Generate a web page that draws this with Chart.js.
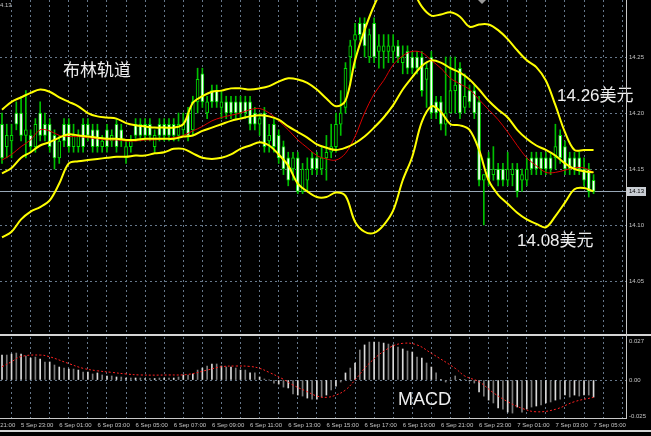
<!DOCTYPE html>
<html>
<head>
<meta charset="utf-8">
<script src="https://cdn.jsdelivr.net/npm/chart.js@4.4.1/dist/chart.umd.min.js"></script>
<style>
  html, body { margin: 0; padding: 0; background: #000; }
  #wrap { position: relative; width: 651px; height: 436px; overflow: hidden; background: #000; }
  canvas { position: absolute; left: 0; }
  #main { top: 0; }
  #macd { top: 336px; }
  .rule { position: absolute; background: #c8c8c8; }
</style>
</head>
<body>
<div id="wrap">
  <canvas id="main" width="651" height="333"></canvas>
  <canvas id="macd" width="651" height="100"></canvas>
  <div class="rule" style="left:0;top:334px;width:651px;height:2px;background:#d4d4d4"></div>
  <div class="rule" style="left:626px;top:0;width:1px;height:419px"></div>
  <div class="rule" style="left:0;top:418px;width:627px;height:1px"></div>
  <div class="rule" style="left:0;top:430px;width:651px;height:2px;background:#d4d4d4"></div>
</div>
<script>
// M15 candles, 5 Sep 22:00 -> 7 Sep 05:00
const opens = [
  14.19,14.17,14.175,14.20,14.20,14.18,14.18,14.17,14.20,14.19,
  14.19,14.18,14.16,14.19,14.19,14.17,14.17,14.19,14.19,14.185,
  14.185,14.17,14.185,14.175,14.19,14.185,14.16,14.17,14.19,14.19,
  14.19,14.19,14.17,14.19,14.19,14.19,14.19,14.18,14.185,14.20,
  14.185,14.21,14.235,14.20,14.22,14.22,14.205,14.21,14.21,14.21,
  14.21,14.21,14.21,14.20,14.19,14.20,14.175,14.19,14.18,14.17,
  14.16,14.15,14.16,14.13,14.14,14.16,14.16,14.15,14.16,14.165,
  14.17,14.19,14.205,14.25,14.265,14.28,14.28,14.25,14.28,14.255,
  14.255,14.255,14.255,14.26,14.245,14.255,14.25,14.25,14.25,14.23,
  14.25,14.21,14.21,14.19,14.20,14.22,14.24,14.205,14.22,14.22,
  14.21,14.14,14.16,14.145,14.15,14.15,14.14,14.145,14.15,14.14,
  14.14,14.16,14.16,14.16,14.16,14.16,14.16,14.18,14.17,14.16,
  14.16,14.16,14.15,14.15,14.14
];
const highs = [
  14.20,14.19,14.19,14.21,14.215,14.22,14.185,14.195,14.21,14.20,
  14.195,14.185,14.18,14.195,14.195,14.19,14.185,14.195,14.195,14.19,
  14.19,14.18,14.19,14.185,14.195,14.19,14.175,14.18,14.195,14.195,
  14.195,14.195,14.185,14.195,14.195,14.195,14.195,14.20,14.20,14.205,
  14.215,14.24,14.24,14.215,14.225,14.225,14.22,14.215,14.215,14.215,
  14.215,14.215,14.215,14.205,14.20,14.205,14.19,14.195,14.185,14.175,
  14.165,14.165,14.165,14.155,14.16,14.165,14.165,14.17,14.18,14.19,
  14.20,14.22,14.245,14.265,14.28,14.285,14.285,14.275,14.285,14.27,
  14.27,14.27,14.27,14.265,14.26,14.26,14.255,14.255,14.255,14.245,
  14.255,14.215,14.215,14.25,14.25,14.25,14.245,14.235,14.225,14.225,
  14.215,14.145,14.165,14.17,14.155,14.155,14.165,14.155,14.155,14.15,
  14.16,14.165,14.165,14.165,14.165,14.165,14.19,14.185,14.175,14.165,
  14.165,14.165,14.16,14.155,14.145
];
const lows = [
  14.155,14.16,14.16,14.185,14.175,14.16,14.165,14.165,14.175,14.175,
  14.165,14.15,14.155,14.17,14.165,14.165,14.165,14.165,14.175,14.165,
  14.165,14.165,14.165,14.17,14.165,14.17,14.155,14.165,14.175,14.175,
  14.175,14.175,14.165,14.175,14.175,14.175,14.175,14.175,14.18,14.175,
  14.18,14.20,14.205,14.195,14.205,14.205,14.195,14.195,14.195,14.195,
  14.195,14.195,14.185,14.185,14.18,14.165,14.165,14.165,14.155,14.145,
  14.135,14.14,14.128,14.128,14.13,14.145,14.145,14.145,14.14,14.16,
  14.165,14.18,14.20,14.225,14.24,14.265,14.25,14.245,14.245,14.24,
  14.24,14.245,14.245,14.245,14.235,14.235,14.235,14.235,14.215,14.205,
  14.195,14.195,14.185,14.18,14.20,14.20,14.195,14.20,14.205,14.195,
  14.135,14.10,14.135,14.14,14.135,14.135,14.135,14.135,14.125,14.13,
  14.135,14.145,14.145,14.145,14.145,14.145,14.15,14.155,14.145,14.145,
  14.145,14.145,14.135,14.125,14.128
];
const closes = [
  14.16,14.18,14.18,14.19,14.18,14.185,14.17,14.19,14.18,14.18,
  14.17,14.16,14.175,14.175,14.17,14.18,14.18,14.17,14.18,14.17,
  14.17,14.175,14.17,14.18,14.17,14.175,14.17,14.175,14.18,14.18,
  14.18,14.18,14.18,14.18,14.18,14.18,14.18,14.19,14.19,14.18,
  14.21,14.23,14.21,14.21,14.21,14.21,14.21,14.20,14.20,14.20,
  14.20,14.20,14.19,14.19,14.195,14.17,14.18,14.17,14.16,14.15,
  14.14,14.16,14.13,14.15,14.15,14.15,14.15,14.16,14.165,14.17,
  14.19,14.20,14.24,14.26,14.27,14.27,14.26,14.27,14.25,14.26,
  14.26,14.26,14.26,14.25,14.25,14.24,14.24,14.24,14.22,14.24,
  14.20,14.20,14.19,14.20,14.22,14.225,14.20,14.215,14.21,14.20,
  14.14,14.145,14.14,14.15,14.14,14.14,14.15,14.15,14.13,14.145,
  14.15,14.15,14.15,14.15,14.15,14.15,14.17,14.16,14.15,14.15,
  14.15,14.15,14.14,14.13,14.13
];

// Bollinger bands (yellow) and fast MA (red), read every 2nd candle
const bandIdx = [
  0,2,4,6,8,10,12,14,16,18,20,22,24,26,28,30,32,34,36,38,
  40,42,44,46,48,50,52,54,56,58,60,62,64,66,68,70,72,74,76,78,
  80,82,84,86,88,90,92,94,96,98,100,102,104,106,108,110,112,114,116,118,
  120,122,124
];
const upperBand = [
  14.203,14.210,14.214,14.218,14.221,14.219,14.214,14.210,14.206,14.200,
  14.197,14.196,14.195,14.191,14.189,14.188,14.187,14.187,14.187,14.190,
  14.209,14.215,14.219,14.220,14.222,14.222,14.221,14.222,14.224,14.228,
  14.231,14.230,14.227,14.221,14.213,14.206,14.211,14.247,14.274,14.296,
  14.312,14.319,14.319,14.310,14.295,14.287,14.288,14.290,14.286,14.277,
  14.279,14.279,14.274,14.266,14.256,14.247,14.241,14.229,14.207,14.183,
  14.167,14.167,14.167
];
const middleBand = [
  14.146,14.151,14.160,14.165,14.171,14.174,14.178,14.181,14.180,14.179,
  14.178,14.177,14.177,14.176,14.176,14.177,14.177,14.177,14.177,14.179,
  14.180,14.184,14.187,14.190,14.193,14.195,14.197,14.198,14.197,14.194,
  14.188,14.183,14.178,14.172,14.169,14.167,14.169,14.173,14.179,14.187,
  14.196,14.207,14.221,14.232,14.242,14.247,14.245,14.240,14.236,14.230,
  14.221,14.211,14.203,14.196,14.185,14.177,14.171,14.167,14.162,14.155,
  14.150,14.148,14.147
];
const lowerBand = [
  14.089,14.094,14.105,14.112,14.116,14.122,14.137,14.155,14.157,14.158,
  14.159,14.160,14.161,14.161,14.162,14.162,14.164,14.165,14.168,14.168,
  14.164,14.160,14.159,14.160,14.163,14.168,14.171,14.174,14.171,14.163,
  14.153,14.137,14.130,14.125,14.125,14.129,14.126,14.103,14.094,14.093,
  14.100,14.113,14.140,14.161,14.192,14.206,14.201,14.190,14.189,14.185,
  14.167,14.140,14.127,14.119,14.111,14.105,14.101,14.098,14.108,14.120,
  14.132,14.133,14.130
];
const fastMa = [
  14.158,14.163,14.170,14.176,14.185,14.184,14.180,14.179,14.179,14.178,
  14.177,14.176,14.176,14.175,14.175,14.176,14.176,14.177,14.178,14.180,
  14.184,14.188,14.193,14.196,14.198,14.200,14.203,14.204,14.200,14.193,
  14.185,14.176,14.169,14.162,14.159,14.158,14.164,14.179,14.200,14.217,
  14.229,14.243,14.251,14.255,14.254,14.247,14.240,14.231,14.226,14.221,
  14.212,14.203,14.194,14.183,14.171,14.160,14.153,14.147,14.147,14.149,
  14.151,14.151,14.147
];

// MACD histogram per candle, signal line at read points
const macdMain = [
  0.0173,0.0173,0.0180,0.0187,0.0180,0.0166,0.0152,0.0159,0.0145,0.0125,
  0.0125,0.0104,0.0090,0.0083,0.0076,0.0076,0.0069,0.0055,0.0055,0.0042,
  0.0049,0.0035,0.0028,0.0028,0.0021,0.0021,0.0014,0.0014,0.0014,0.0014,
  0.0010,0.0010,0.0010,0.0014,0.0014,0.0014,0.0014,0.0021,0.0035,0.0035,
  0.0042,0.0069,0.0083,0.0097,0.0111,0.0111,0.0097,0.0090,0.0090,0.0083,
  0.0069,0.0069,0.0049,0.0049,0.0021,0.0007,0.0000,-0.0021,-0.0028,-0.0049,
  -0.0055,-0.0097,-0.0104,-0.0111,-0.0125,-0.0132,-0.0132,-0.0118,-0.0104,-0.0069,
  -0.0042,-0.0014,0.0049,0.0083,0.0118,0.0208,0.0243,0.0263,0.0263,0.0263,
  0.0256,0.0249,0.0243,0.0229,0.0215,0.0201,0.0194,0.0159,0.0152,0.0118,
  0.0090,0.0049,0.0003,-0.0014,0.0000,0.0028,0.0003,0.0003,-0.0007,-0.0021,
  -0.0083,-0.0111,-0.0139,-0.0159,-0.0194,-0.0201,-0.0222,-0.0229,-0.0187,-0.0222,
  -0.0201,-0.0187,-0.0180,-0.0173,-0.0159,-0.0152,-0.0139,-0.0132,-0.0104,-0.0118,
  -0.0104,-0.0111,-0.0104,-0.0104,-0.0118
];
const signalIdx = [0,2,4,8,10,14,17,20,23,26,29,35,39,43,46,49,52,54,56,59,61,64,66,68,70,72,74,77,81,84,87,90,95,97,100,103,106,109,112,116,120,124];
const signalLine = [
  0.0092,0.0127,0.0163,0.0173,0.0161,0.0114,0.0081,0.0064,0.0053,0.0042,
  0.0035,0.0035,0.0039,0.0069,0.0092,0.0097,0.0094,0.0081,0.0053,0.0005,
  -0.0035,-0.0081,-0.0111,-0.0120,-0.0104,-0.0069,0.0000,0.0116,0.0220,0.0254,
  0.0243,0.0185,0.0081,0.0028,-0.0012,-0.0088,-0.0150,-0.0196,-0.0220,-0.0203,
  -0.0150,-0.0120
];

const timeIdx = [-4,4,12,20,28,36,44,52,60,68,76,84,92,100,108,116,124];
const timeLabels = [
  '5 Sep 21:00','5 Sep 23:00','6 Sep 01:00','6 Sep 03:00','6 Sep 05:00','6 Sep 07:00',
  '6 Sep 09:00','6 Sep 11:00','6 Sep 13:00','6 Sep 15:00','6 Sep 17:00','6 Sep 19:00',
  '6 Sep 21:00','6 Sep 23:00','7 Sep 01:00','7 Sep 03:00','7 Sep 05:00'
];
const priceTicks = [14.05, 14.10, 14.15, 14.20, 14.25];
const macdTicks = [0.027, 0, -0.025];
const lastPrice = 14.13;

const X_MIN = -0.42, X_MAX = 130.8;
const Y_MIN = 14.0036, Y_MAX = 14.3009;
const M_MIN = -0.0263, M_MAX = 0.0298;
const GRID = '#66778a';
const FONT = "'Liberation Sans', 'Noto Sans CJK SC', sans-serif";
const TEXT = '#c4c4c4';

const candleIdx = closes.map((_, i) => i);
const hourTicks = [];
for (let v = 0; v <= X_MAX; v += 4) hourTicks.push({ value: v });
const toPoints = (idx, vals) => idx.map((x, k) => ({ x: x, y: vals[k] }));

function xAxis() {
  return {
    type: 'linear', min: X_MIN, max: X_MAX, offset: false,
    afterBuildTicks: s => { s.ticks = hourTicks.slice(); },
    afterFit: s => { s.height = 0; s.paddingLeft = 0; s.paddingRight = 0; },
    ticks: { display: false },
    grid: { color: GRID, drawTicks: false },
    border: { display: false, dash: [2, 3] }
  };
}

const mainDecor = {
  id: 'mainDecor',
  beforeDatasetsDraw(chart) {
    const { ctx, chartArea, scales } = chart;
    const py = Math.round(scales.y.getPixelForValue(lastPrice)) + 0.5;
    ctx.save();
    ctx.strokeStyle = '#98a7b6';
    ctx.lineWidth = 1;
    ctx.beginPath();
    ctx.moveTo(chartArea.left, py);
    ctx.lineTo(chartArea.right, py);
    ctx.stroke();
    ctx.restore();
  },
  afterDraw(chart) {
    const { ctx, chartArea, scales } = chart;
    const py = Math.round(scales.y.getPixelForValue(lastPrice));
    ctx.save();
    // bid label on the price axis
    ctx.fillStyle = '#c9ced4';
    ctx.fillRect(chartArea.right + 1, py - 4, 19, 9);
    ctx.fillStyle = '#000';
    ctx.font = '6px ' + FONT;
    ctx.textBaseline = 'middle';
    ctx.textAlign = 'left';
    ctx.fillText(lastPrice.toFixed(2), chartArea.right + 3, py + 0.5);
    // header remnant and shift marker
    ctx.fillStyle = TEXT;
    ctx.fillText('4.13', 0, 5);
    ctx.fillStyle = '#9a9a9a';
    ctx.beginPath();
    ctx.moveTo(478, 0); ctx.lineTo(486, 0); ctx.lineTo(482, 4);
    ctx.closePath();
    ctx.fill();
    // annotations
    ctx.fillStyle = '#eeeeee';
    ctx.font = '17px ' + FONT;
    ctx.fillText('布林轨道', 63, 71);
    ctx.fillText('14.26美元', 557, 96);
    ctx.fillText('14.08美元', 517, 241);
    ctx.restore();
  }
};

new Chart(document.getElementById('main'), {
  type: 'bar',
  data: {
    datasets: [
      { type: 'line', data: toPoints(bandIdx, upperBand), borderColor: '#ffff00', borderWidth: 2, pointRadius: 0, tension: 0.35, order: 1 },
      { type: 'line', data: toPoints(bandIdx, middleBand), borderColor: '#ffff00', borderWidth: 2, pointRadius: 0, tension: 0.35, order: 1 },
      { type: 'line', data: toPoints(bandIdx, lowerBand), borderColor: '#ffff00', borderWidth: 2, pointRadius: 0, tension: 0.35, order: 1 },
      { type: 'line', data: toPoints(bandIdx, fastMa), borderColor: '#d80000', borderWidth: 1, pointRadius: 0, tension: 0.35, order: 2 },
      {
        type: 'bar',
        data: candleIdx.map(i => ({ x: i, y: [opens[i], closes[i]] })),
        backgroundColor: candleIdx.map(i => closes[i] < opens[i] ? '#ffffff' : '#000000'),
        borderColor: '#00e000', borderWidth: 1, borderSkipped: false,
        barThickness: 3, grouped: false, order: 4
      },
      {
        type: 'bar',
        data: candleIdx.map(i => ({ x: i, y: [lows[i], highs[i]] })),
        backgroundColor: '#00c000', barThickness: 1, grouped: false, order: 5
      }
    ]
  },
  options: {
    responsive: false, animation: false, events: [],
    layout: { padding: 0 },
    plugins: { legend: { display: false }, tooltip: { enabled: false } },
    scales: {
      x: xAxis(),
      y: {
        position: 'right', min: Y_MIN, max: Y_MAX,
        afterBuildTicks: s => { s.ticks = priceTicks.map(v => ({ value: v })); },
        afterFit: s => { s.width = 25; s.paddingTop = 0; s.paddingBottom = 0; },
        ticks: { color: TEXT, font: { size: 6, family: FONT }, padding: 3, callback: v => v.toFixed(2) },
        grid: { color: GRID, drawTicks: false },
        border: { display: false, dash: [2, 3] }
      }
    }
  },
  plugins: [mainDecor]
});

const macdDecor = {
  id: 'macdDecor',
  afterDraw(chart) {
    const { ctx, scales } = chart;
    ctx.save();
    ctx.fillStyle = TEXT;
    ctx.font = '6px ' + FONT;
    ctx.textBaseline = 'middle';
    ctx.textAlign = 'left';
    timeIdx.forEach((v, k) => {
      ctx.fillText(timeLabels[k], scales.x.getPixelForValue(v), 89);
    });
    ctx.fillStyle = '#eeeeee';
    ctx.font = '18px ' + FONT;
    ctx.fillText('MACD', 398, 64);
    ctx.restore();
  }
};

new Chart(document.getElementById('macd'), {
  type: 'bar',
  data: {
    datasets: [
      { type: 'line', data: toPoints(signalIdx, signalLine), borderColor: '#ff2020', borderWidth: 1, borderDash: [2, 2], pointRadius: 0, tension: 0.4, order: 1 },
      {
        type: 'bar',
        data: candleIdx.map(i => ({ x: i, y: macdMain[i] })),
        backgroundColor: candleIdx.map(i => i % 2 ? '#7c7c7c' : '#dadada'),
        barThickness: 1, grouped: false, order: 2
      }
    ]
  },
  options: {
    responsive: false, animation: false, events: [],
    layout: { padding: { top: 1, bottom: 18 } },
    plugins: { legend: { display: false }, tooltip: { enabled: false } },
    scales: {
      x: xAxis(),
      y: {
        position: 'right', min: M_MIN, max: M_MAX,
        afterBuildTicks: s => { s.ticks = macdTicks.map(v => ({ value: v })); },
        afterFit: s => { s.width = 25; s.paddingTop = 0; s.paddingBottom = 0; },
        ticks: { color: TEXT, font: { size: 6, family: FONT }, padding: 3, callback: v => v === 0 ? '0.00' : String(v) },
        grid: { color: c => (c.tick && c.tick.value === 0) ? GRID : 'rgba(0,0,0,0)', drawTicks: false },
        border: { display: false, dash: [2, 3] }
      }
    }
  },
  plugins: [macdDecor]
});
</script>
</body>
</html>
